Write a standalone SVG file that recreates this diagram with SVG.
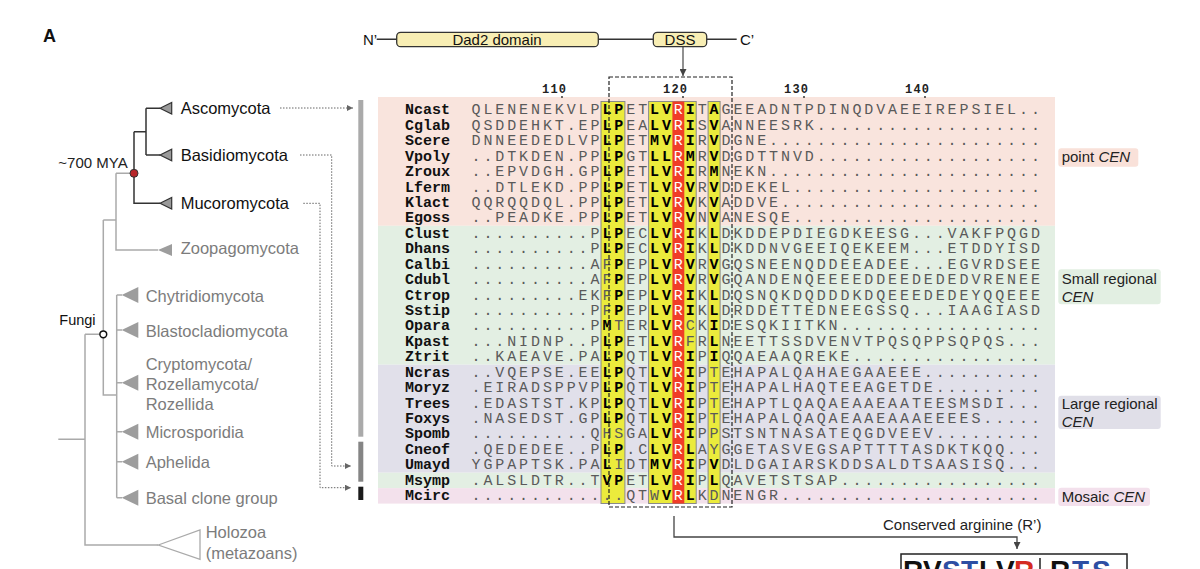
<svg xmlns="http://www.w3.org/2000/svg" width="1200" height="569" viewBox="0 0 1200 569">
<defs>
<marker id="ag" viewBox="0 0 10 10" refX="10" refY="5" markerWidth="7" markerHeight="6" markerUnits="userSpaceOnUse" orient="auto"><path d="M0,0 L10,5 L0,10 z" fill="#666"/></marker>
<marker id="ad" viewBox="0 0 10 10" refX="10" refY="5" markerWidth="7" markerHeight="7" markerUnits="userSpaceOnUse" orient="auto"><path d="M0,0 L10,5 L0,10 z" fill="#444"/></marker>
</defs>
<style>
.tk{font-family:"Liberation Sans",Arial,sans-serif;font-size:16.5px;fill:#111}
.tg{font-family:"Liberation Sans",Arial,sans-serif;font-size:16.5px;fill:#7c7c7c}
.lab{font-family:"Liberation Sans",Arial,sans-serif;font-size:15px;fill:#222}
.s{font-family:"Liberation Mono","Courier New",monospace;font-size:15px;letter-spacing:2.9px;fill:#5a5a5a}
.b{font-weight:bold;fill:#000}
.w{fill:#fff}
.nm{font-family:"Liberation Mono","Courier New",monospace;font-size:15px;font-weight:bold;fill:#111}
.num{font-family:"Liberation Mono","Courier New",monospace;font-size:12px;font-weight:bold;letter-spacing:1.2px;fill:#222}
.dk{stroke:#333;stroke-width:1.5;fill:none}
.lg{stroke:#aaa;stroke-width:1.5;fill:none}
.dot{stroke:#666;stroke-width:1;stroke-dasharray:1.5 1.5;fill:none}
.trid{fill:#9a9a9a;stroke:#333;stroke-width:1.2}
.trig{fill:#9d9d9d}
.ybox{fill:#ebeb3c;stroke:#8a8a8a;stroke-width:1}
.dom{fill:#f8eeb4;stroke:#333;stroke-width:1.3}
.lg1{font-family:"Liberation Sans",Arial,sans-serif;font-size:28px;font-weight:bold;fill:#111}
.bl{fill:#2d4ea3}
.rd{fill:#d42a22}
</style>
<rect width="1200" height="569" fill="#fff"/>

<text x="43" y="42" font-family="Liberation Sans,Arial,sans-serif" font-size="18" font-weight="bold" fill="#111">A</text>

<!-- connectors -->
<g id="connectors">
  <path class="dk" d="M146 108.3 H160 M146 155 H160 M146 108.3 V155 M134 131.7 H146 M134 131.7 V203.3 H160"/>
  <path class="lg" d="M116 173.3 H130 M116 173.3 V250 H158 M103.3 220 H116 M103.3 220 V395 H116.7 M116.7 295 V497.7 M116.7 295 H122 M116.7 330 H122 M116.7 382.7 H122 M116.7 431.7 H122 M116.7 461.7 H122 M116.7 497.7 H122 M85 334.3 H100 M85 334.3 V545 H158.3 M58.3 439.3 H85"/>
  <path class="dot" d="M280 108 H353" marker-end="url(#ag)"/>
  <path class="dot" d="M300 155 H331.7 V466 H351" marker-end="url(#ag)"/>
  <path class="dot" d="M303.3 203.3 H320 V487.7 H351" marker-end="url(#ag)"/>
  <path d="M683 47 V76" stroke="#555" stroke-width="1.3" fill="none" marker-end="url(#ad)"/>
  <path d="M674 516 V537 H1017 V549" stroke="#444" stroke-width="1.3" fill="none" marker-end="url(#ad)"/>
</g>

<!-- tree nodes -->
<g id="node-dikarya-muco"><circle cx="134" cy="173.3" r="4" fill="#b8262a" stroke="#333" stroke-width="1"/><text x="58.3" y="168" font-family="Liberation Sans,Arial,sans-serif" font-size="15" fill="#222">~700 MYA</text></g>
<g id="node-fungi"><circle cx="103.3" cy="334.3" r="3.4" fill="#fff" stroke="#111" stroke-width="1.5"/><text x="59.3" y="325" font-family="Liberation Sans,Arial,sans-serif" font-size="14.5" fill="#111">Fungi</text></g>
<g id="clade-ascomycota"><polygon class="trid" points="160,108.3 171.7,102.5 171.7,114.1"/><text class="tk" x="180.7" y="114.3">Ascomycota</text></g>
<g id="clade-basidiomycota"><polygon class="trid" points="160,155 171.7,149.2 171.7,160.8"/><text class="tk" x="180.7" y="161">Basidiomycota</text></g>
<g id="clade-mucoromycota"><polygon class="trid" points="160,203.3 171.7,197.5 171.7,209.1"/><text class="tk" x="180.7" y="209.3">Mucoromycota</text></g>
<g id="clade-zoopagomycota"><polygon class="trig" points="158,250 172,244 172,256"/><text class="tg" x="180.7" y="254">Zoopagomycota</text></g>
<g id="clade-chytridiomycota"><polygon class="trig" points="121.7,295 138.3,287 138.3,303"/><text class="tg" x="145.7" y="301.5">Chytridiomycota</text></g>
<g id="clade-blastocladiomycota"><polygon class="trig" points="121.7,330 138.3,322 138.3,338"/><text class="tg" x="145.7" y="336.5">Blastocladiomycota</text></g>
<g id="clade-cryptomycota"><polygon class="trig" points="121.7,382.7 138.3,374.7 138.3,390.7"/><text class="tg" x="145.7" y="369.5">Cryptomycota/</text><text class="tg" x="145.7" y="389.5">Rozellamycota/</text><text class="tg" x="145.7" y="409.5">Rozellida</text></g>
<g id="clade-microsporidia"><polygon class="trig" points="121.7,431.7 138.3,423.7 138.3,439.7"/><text class="tg" x="145.7" y="438">Microsporidia</text></g>
<g id="clade-aphelida"><polygon class="trig" points="121.7,461.7 138.3,453.7 138.3,469.7"/><text class="tg" x="145.7" y="468">Aphelida</text></g>
<g id="clade-basal"><polygon class="trig" points="121.7,497.7 138.3,489.7 138.3,505.7"/><text class="tg" x="145.7" y="504">Basal clone group</text></g>
<g id="clade-holozoa"><polygon points="158.3,545 200,530 200,559.3" fill="#fff" stroke="#aaa" stroke-width="1.3"/><text class="tg" x="205.7" y="537.5">Holozoa</text><text class="tg" x="205.7" y="558.5">(metazoans)</text></g>

<!-- side bars -->
<g id="bars">
  <rect x="358.3" y="100" width="5" height="336.7" fill="#aaa"/>
  <rect x="358.3" y="441.7" width="5" height="40" fill="#858585"/>
  <rect x="358.3" y="486.7" width="5" height="13.3" fill="#1a1a1a"/>
</g>

<!-- domain diagram -->
<g id="domain">
  <path d="M376.7 39.3 H736.7" stroke="#333" stroke-width="1.5"/>
  <text x="363" y="45" font-family="Liberation Sans,Arial,sans-serif" font-size="15" fill="#111">N’</text>
  <g id="dad2"><rect class="dom" x="396.7" y="32.3" width="201.6" height="14.4" rx="4"/><text x="497" y="44.6" text-anchor="middle" font-family="Liberation Sans,Arial,sans-serif" font-size="15" fill="#111">Dad2 domain</text></g>
  <g id="dss"><rect class="dom" x="653.3" y="32.3" width="53.4" height="14.4" rx="4"/><text x="680" y="44.6" text-anchor="middle" font-family="Liberation Sans,Arial,sans-serif" font-size="15" fill="#111">DSS</text></g>
  <text x="740" y="45" font-family="Liberation Sans,Arial,sans-serif" font-size="15" fill="#111">C’</text>
</g>

<!-- bands -->
<g id="bands">
  <rect x="378" y="97" width="677" height="128.8" fill="#f9e4dd"/>
  <rect x="378" y="225.8" width="677" height="138.9" fill="#e3efe3"/>
  <rect x="378" y="364.7" width="677" height="108" fill="#e1e0ea"/>
  <rect x="378" y="472.7" width="677" height="15.4" fill="#e3efe3"/>
  <rect x="378" y="488.1" width="677" height="15.5" fill="#f3e1ec"/>
</g>

<!-- conserved columns -->
<g id="columns">
  <rect class="ybox" x="601" y="101.5" width="23.9" height="402"/>
  <rect class="ybox" x="648.6" y="101.5" width="47.6" height="402"/>
  <rect x="672.4" y="101.5" width="11.9" height="402" fill="#f03c28"/>
  <rect class="ybox" x="708.1" y="101.5" width="12" height="402"/>
</g>

<!-- position numbers -->
<g id="numbers">
  <text class="num" x="542" y="93">110</text><circle cx="562" cy="97" r="0.9" fill="#222"/>
  <text class="num" x="663" y="93">120</text><circle cx="683" cy="97" r="0.9" fill="#222"/>
  <text class="num" x="784" y="93">130</text><circle cx="804" cy="97" r="0.9" fill="#222"/>
  <text class="num" x="905" y="93">140</text><circle cx="925" cy="97" r="0.9" fill="#222"/>
</g>

<!-- alignment rows -->
<g id="alignment">
<g id="row-Ncast"><text class="nm" x="405" y="114.3">Ncast</text><text class="s" x="471.5" y="114.3">QLENENEKVLP<tspan class="b">LP</tspan>ET<tspan class="b">LV</tspan><tspan class="w">R</tspan><tspan class="b">I</tspan>T<tspan class="b">A</tspan>GEEADNTPDINQDVAEEIREPSIEL..</text></g>
<g id="row-Cglab"><text class="nm" x="405" y="129.7">Cglab</text><text class="s" x="471.5" y="129.7">QSDDEHKT.EP<tspan class="b">LP</tspan>EA<tspan class="b">LV</tspan><tspan class="w">R</tspan><tspan class="b">I</tspan>S<tspan class="b">V</tspan>ANNEESRK...................</text></g>
<g id="row-Scere"><text class="nm" x="405" y="145.2">Scere</text><text class="s" x="471.5" y="145.2">DNNEEDEDLVP<tspan class="b">LP</tspan>ET<tspan class="b">MV</tspan><tspan class="w">R</tspan><tspan class="b">I</tspan>R<tspan class="b">V</tspan>DGNE.......................</text></g>
<g id="row-Vpoly"><text class="nm" x="405" y="160.6">Vpoly</text><text class="s" x="471.5" y="160.6">..DTKDEN.PP<tspan class="b">LP</tspan>GT<tspan class="b">LL</tspan><tspan class="w">R</tspan><tspan class="b">M</tspan>R<tspan class="b">V</tspan>DGDTTNVD...................</text></g>
<g id="row-Zroux"><text class="nm" x="405" y="176">Zroux</text><text class="s" x="471.5" y="176">..EPVDGH.GP<tspan class="b">LP</tspan>ET<tspan class="b">LV</tspan><tspan class="w">R</tspan><tspan class="b">I</tspan>R<tspan class="b">M</tspan>NEKN.......................</text></g>
<g id="row-Lferm"><text class="nm" x="405" y="191.5">Lferm</text><text class="s" x="471.5" y="191.5">..DTLEKD.PP<tspan class="b">LP</tspan>ET<tspan class="b">LV</tspan><tspan class="w">R</tspan><tspan class="b">V</tspan>R<tspan class="b">V</tspan>DDEKEL.....................</text></g>
<g id="row-Klact"><text class="nm" x="405" y="206.9">Klact</text><text class="s" x="471.5" y="206.9">QQRQQDQL.PP<tspan class="b">LP</tspan>ET<tspan class="b">LV</tspan><tspan class="w">R</tspan><tspan class="b">V</tspan>K<tspan class="b">V</tspan>ADDVE......................</text></g>
<g id="row-Egoss"><text class="nm" x="405" y="222.3">Egoss</text><text class="s" x="471.5" y="222.3">..PEADKE.PP<tspan class="b">LP</tspan>ET<tspan class="b">LV</tspan><tspan class="w">R</tspan><tspan class="b">V</tspan>N<tspan class="b">V</tspan>ANESQE.....................</text></g>
<g id="row-Clust"><text class="nm" x="405" y="237.7">Clust</text><text class="s" x="471.5" y="237.7">..........P<tspan class="b">LP</tspan>EC<tspan class="b">LV</tspan><tspan class="w">R</tspan><tspan class="b">I</tspan>K<tspan class="b">L</tspan>DKDDEPDIEGDKEESG...VAKFPQGD</text></g>
<g id="row-Dhans"><text class="nm" x="405" y="253.2">Dhans</text><text class="s" x="471.5" y="253.2">..........P<tspan class="b">LP</tspan>EC<tspan class="b">LV</tspan><tspan class="w">R</tspan><tspan class="b">I</tspan>K<tspan class="b">L</tspan>DKDDNVGEEIQEKEEM...ETDDYISD</text></g>
<g id="row-Calbi"><text class="nm" x="405" y="268.6">Calbi</text><text class="s" x="471.5" y="268.6">..........AF<tspan class="b">P</tspan>EP<tspan class="b">LV</tspan><tspan class="w">R</tspan><tspan class="b">V</tspan>R<tspan class="b">V</tspan>GQSNEENQDDEEADEE...EGVRDSEE</text></g>
<g id="row-Cdubl"><text class="nm" x="405" y="284">Cdubl</text><text class="s" x="471.5" y="284">..........AF<tspan class="b">P</tspan>EP<tspan class="b">LV</tspan><tspan class="w">R</tspan><tspan class="b">V</tspan>R<tspan class="b">V</tspan>GQANDENQEEEEDDEEDEDEDVRENEE</text></g>
<g id="row-Ctrop"><text class="nm" x="405" y="299.5">Ctrop</text><text class="s" x="471.5" y="299.5">.........EKF<tspan class="b">P</tspan>EP<tspan class="b">LV</tspan><tspan class="w">R</tspan><tspan class="b">I</tspan>K<tspan class="b">L</tspan>DQSNQKDQDDDKDQEEEDEDEYQQEEE</text></g>
<g id="row-Sstip"><text class="nm" x="405" y="314.9">Sstip</text><text class="s" x="471.5" y="314.9">..........PF<tspan class="b">P</tspan>EP<tspan class="b">LV</tspan><tspan class="w">R</tspan><tspan class="b">I</tspan>K<tspan class="b">L</tspan>DRDDETTEDNEEGSSQ...IAAGIASD</text></g>
<g id="row-Opara"><text class="nm" x="405" y="330.3">Opara</text><text class="s" x="471.5" y="330.3">..........P<tspan class="b">M</tspan>TER<tspan class="b">LV</tspan><tspan class="w">R</tspan>CK<tspan class="b">I</tspan>DESQKIITKN.................</text></g>
<g id="row-Kpast"><text class="nm" x="405" y="345.8">Kpast</text><text class="s" x="471.5" y="345.8">...NIDNP..P<tspan class="b">LP</tspan>ET<tspan class="b">LV</tspan><tspan class="w">R</tspan>FR<tspan class="b">L</tspan>NEETTSSDVENVTPQSQPPSQPQS...</text></g>
<g id="row-Ztrit"><text class="nm" x="405" y="361.2">Ztrit</text><text class="s" x="471.5" y="361.2">..KAEAVE.PA<tspan class="b">LP</tspan>QT<tspan class="b">LV</tspan><tspan class="w">R</tspan><tspan class="b">I</tspan>P<tspan class="b">I</tspan>QQAEAAQREKE................</text></g>
<g id="row-Ncras"><text class="nm" x="405" y="376.6">Ncras</text><text class="s" x="471.5" y="376.6">..VQEPSE.EE<tspan class="b">LP</tspan>QT<tspan class="b">LV</tspan><tspan class="w">R</tspan><tspan class="b">I</tspan>PTEHAPALQAHAEGAAEEE..........</text></g>
<g id="row-Moryz"><text class="nm" x="405" y="392">Moryz</text><text class="s" x="471.5" y="392">.EIRADSPPVP<tspan class="b">LP</tspan>QT<tspan class="b">LV</tspan><tspan class="w">R</tspan><tspan class="b">I</tspan>PTEHAPALHAQTEEAGETDE.........</text></g>
<g id="row-Trees"><text class="nm" x="405" y="407.5">Trees</text><text class="s" x="471.5" y="407.5">.EDASTST.KP<tspan class="b">LP</tspan>QT<tspan class="b">LV</tspan><tspan class="w">R</tspan><tspan class="b">I</tspan>PTEHAPTLQAQAEAAEAATEESMSDI...</text></g>
<g id="row-Foxys"><text class="nm" x="405" y="422.9">Foxys</text><text class="s" x="471.5" y="422.9">.NASEDST.GP<tspan class="b">LP</tspan>QT<tspan class="b">LV</tspan><tspan class="w">R</tspan><tspan class="b">I</tspan>PTEHAPALQAQAEAAEAAAEEEES.....</text></g>
<g id="row-Spomb"><text class="nm" x="405" y="438.3">Spomb</text><text class="s" x="471.5" y="438.3">..........QHSGA<tspan class="b">LV</tspan><tspan class="w">R</tspan><tspan class="b">I</tspan>PPSTSNTNASATEQGDVEEV.........</text></g>
<g id="row-Cneof"><text class="nm" x="405" y="453.8">Cneof</text><text class="s" x="471.5" y="453.8">.QEDEDEE..P<tspan class="b">LP</tspan>.C<tspan class="b">LV</tspan><tspan class="w">R</tspan><tspan class="b">L</tspan>AYGGETASVEGSAPTTTTASDKTKQQ...</text></g>
<g id="row-Umayd"><text class="nm" x="405" y="469.2">Umayd</text><text class="s" x="471.5" y="469.2">YGPAPTSK.PA<tspan class="b">L</tspan>IDT<tspan class="b">MV</tspan><tspan class="w">R</tspan><tspan class="b">I</tspan>P<tspan class="b">V</tspan>DLDGAIARSKDDSALDTSAASISQ...</text></g>
<g id="row-Msymp"><text class="nm" x="405" y="484.6">Msymp</text><text class="s" x="471.5" y="484.6">.ALSLDTR..T<tspan class="b">VP</tspan>ET<tspan class="b">LV</tspan><tspan class="w">R</tspan><tspan class="b">I</tspan>P<tspan class="b">L</tspan>QAVETSTSAP.................</text></g>
<g id="row-Mcirc"><text class="nm" x="405" y="500">Mcirc</text><text class="s" x="471.5" y="500">.............QTW<tspan class="b">V</tspan><tspan class="w">R</tspan><tspan class="b">L</tspan>KDNENGR......................</text></g>
</g>

<!-- DSS window -->
<rect id="dss-window" x="609" y="77" width="123" height="430" fill="none" stroke="#222" stroke-width="1.2" stroke-dasharray="4 2"/>

<!-- CEN labels -->
<g id="label-point"><rect x="1058.3" y="148.3" width="80" height="18.4" rx="3" fill="#f9e1d9"/><text class="lab" x="1061.7" y="161.8">point <tspan font-style="italic">CEN</tspan></text></g>
<g id="label-small"><rect x="1058.3" y="269.3" width="102.4" height="35" rx="3" fill="#e2efe2"/><text class="lab" x="1061.7" y="284">Small regional</text><text class="lab" x="1061.7" y="301.7" font-style="italic">CEN</text></g>
<g id="label-large"><rect x="1058.3" y="395.7" width="102.4" height="33.3" rx="3" fill="#e0dfe8"/><text class="lab" x="1061.7" y="409.3">Large regional</text><text class="lab" x="1061.7" y="426.7" font-style="italic">CEN</text></g>
<g id="label-mosaic"><rect x="1058.3" y="487.7" width="91.7" height="18.3" rx="3" fill="#f3e0ec"/><text class="lab" x="1061.7" y="502.3">Mosaic <tspan font-style="italic">CEN</tspan></text></g>

<!-- conserved arginine -->
<g id="conserved-arginine"><text class="lab" x="883" y="530">Conserved arginine (R’)</text></g>
<g id="logo">
  <rect x="901" y="554" width="226" height="40" fill="#fff" stroke="#222" stroke-width="1.5"/>
  <text class="lg1" x="903" y="580">R</text>
  <text class="lg1" x="923" y="580">V</text>
  <text class="lg1 bl" x="942" y="580">S</text>
  <text class="lg1 bl" x="961" y="580">T</text>
  <text class="lg1" x="979" y="580">L</text>
  <text class="lg1" x="996" y="580">V</text>
  <text class="lg1 rd" x="1014" y="580">R</text>
  <path d="M1040 558 V569" stroke="#222" stroke-width="1.5"/>
  <text class="lg1" x="1050" y="580">R</text>
  <text class="lg1 bl" x="1072" y="580">T</text>
  <text class="lg1 bl" x="1092" y="580">S</text>
</g>
</svg>
